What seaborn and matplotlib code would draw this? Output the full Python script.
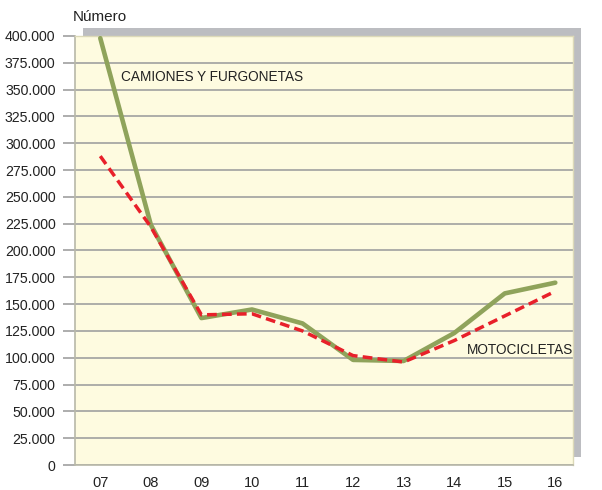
import matplotlib
matplotlib.use("Agg")
import matplotlib.pyplot as plt
from matplotlib.patches import Rectangle
from matplotlib.ticker import FuncFormatter, MultipleLocator
import seaborn as sns
import pandas as pd

# data
years = ["07", "08", "09", "10", "11", "12", "13", "14", "15", "16"]
camiones = [398000, 224000, 137000, 145000, 132000, 98000, 97000, 123000, 160000, 170000]
motos = [288000, 222000, 140000, 141000, 125000, 102000, 96000, 116000, 139000, 162000]

GREEN = "#8fa35b"
RED = "#e8202a"
GRID = "#a0a0a0"
FONT = ["Liberation Sans Narrow", "Liberation Sans", "DejaVu Sans"]

sns.set_theme(style="white")
plt.rcParams["font.family"] = FONT

df = pd.DataFrame({"pos": range(len(years)), "camiones": camiones, "motos": motos})

fig = plt.figure(figsize=(6.02, 4.90), dpi=100)
ax_rect = [75 / 602, 25 / 490, 498 / 602, 429 / 490]

# drop shadow behind the plot area
fig.patches.append(Rectangle((83 / 602, 33 / 490), 498 / 602, 429 / 490,
                             transform=fig.transFigure, facecolor="#bcbdc1",
                             edgecolor="none", zorder=0))

ax = fig.add_axes(ax_rect)
ax.set_facecolor("#fefbe0")
ax.set_zorder(1)

sns.lineplot(data=df, x="pos", y="camiones", color=GREEN, linewidth=3.3, ax=ax, zorder=3)
sns.lineplot(data=df, x="pos", y="motos", color=RED, linewidth=2.5, ax=ax, zorder=4,
             dashes=False)
ax.lines[-1].set_dashes((2.8, 1.5))

ax.set_xlim(-0.5, 9.35)
ax.set_ylim(0, 400000)
ax.yaxis.set_major_locator(MultipleLocator(25000))
ax.yaxis.set_major_formatter(FuncFormatter(lambda v, p: f"{int(v):,}".replace(",", ".")))
ax.set_xticks(range(len(years)))
ax.set_xticklabels(years)
ax.set_xlabel("")
ax.set_ylabel("")

ax.grid(axis="y", color=GRID, linewidth=1.2)
ax.grid(axis="x", visible=False)
ax.set_axisbelow(True)
ax.tick_params(axis="y", length=9, width=1.2, color=GRID, pad=5, labelsize=10.2,
               labelcolor="#222222", left=True)
ax.tick_params(axis="x", length=0, pad=8, labelsize=10.5, labelcolor="#222222")

for side in ["left", "bottom"]:
    ax.spines[side].set_color("#b8b8a8")
    ax.spines[side].set_linewidth(1.2)
for side in ["top", "right"]:
    ax.spines[side].set_color("#dcd9b8")
    ax.spines[side].set_linewidth(1.0)

ax.text(0.4, 362000, "CAMIONES Y FURGONETAS", fontsize=9.8, color="#222222",
        va="center", ha="left", family=FONT)
ax.text(7.25, 107000, "MOTOCICLETAS", fontsize=9.8, color="#222222",
        va="center", ha="left", family=FONT)

fig.text(73 / 602, 1 - 17 / 490, "Número", fontsize=11, color="#222222",
         va="center", ha="left", family=FONT)

fig.savefig("out.png", dpi=100)
